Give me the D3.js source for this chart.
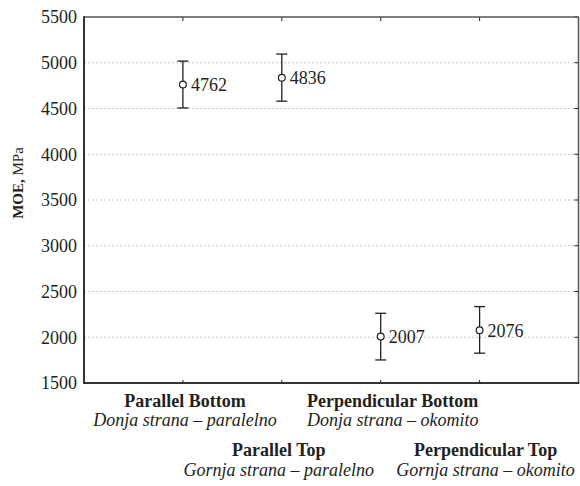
<!DOCTYPE html>
<html><head><meta charset="utf-8">
<script src="https://cdn.jsdelivr.net/npm/d3@7"></script>
<style>body{margin:0;background:#fff}svg{display:block}text{font-family:"Liberation Serif","Times New Roman",serif;fill:#231f20}</style>
</head><body>
<script>
const categoriesEn = ["Parallel Bottom", "Parallel Top", "Perpendicular Bottom", "Perpendicular Top"];
const categoriesHr = ["Donja strana – paralelno", "Gornja strana – paralelno", "Donja strana – okomito", "Gornja strana – okomito"];
const means = [4762, 4836, 2007, 2076];
const upper = [5018, 5095, 2262, 2335];
const lower = [4506, 4580, 1752, 1826];
const yTicks = [1500, 2000, 2500, 3000, 3500, 4000, 4500, 5000, 5500];

const W = 580, H = 486;
const svg = d3.select("body").append("svg").attr("width", W).attr("height", H);
const x = d3.scaleLinear().domain([0, 5]).range([84, 578.5]);
const y = d3.scaleLinear().domain([1500, 5500]).range([383, 17]);
const pos = means.map((d, i) => i + 1);
const col = "#231f20";
const fs = "18px";

// grid
svg.append("g").selectAll("line").data(yTicks.slice(1, -1)).join("line")
  .attr("x1", x(0)).attr("x2", x(5)).attr("y1", d => y(d)).attr("y2", d => y(d))
  .attr("stroke", "#b5b5b5").attr("stroke-width", 0.8).attr("stroke-dasharray", "2,2");

// left axis
const ga = svg.append("g").attr("transform", `translate(${x(0)},0)`)
  .call(d3.axisLeft(y).tickValues(yTicks).tickSize(0).tickPadding(7).tickFormat(d3.format("d")));
ga.select(".domain").remove();
ga.selectAll("text").style("font-size", fs).attr("fill", col).style("font-family", '"Liberation Serif",serif');

// inner ticks right, top, bottom
svg.append("g").selectAll("line").data(yTicks).join("line")
  .attr("x1", x(5)).attr("x2", x(5) - 4).attr("y1", d => y(d)).attr("y2", d => y(d))
  .attr("stroke", col).attr("stroke-width", 1);
svg.append("g").selectAll("line").data(pos).join("line")
  .attr("x1", d => x(d)).attr("x2", d => x(d)).attr("y1", y(5500)).attr("y2", y(5500) + 4)
  .attr("stroke", col).attr("stroke-width", 1);
svg.append("g").selectAll("line").data(pos).join("line")
  .attr("x1", d => x(d)).attr("x2", d => x(d)).attr("y1", y(1500)).attr("y2", y(1500) - 3)
  .attr("stroke", col).attr("stroke-width", 1);

// frame
svg.append("line").attr("x1", x(0)).attr("x2", x(5)).attr("y1", y(5500)).attr("y2", y(5500)).attr("stroke", "#555").attr("stroke-width", 1.5);
svg.append("line").attr("x1", x(5)).attr("x2", x(5)).attr("y1", y(5500)).attr("y2", y(1500)).attr("stroke", "#555").attr("stroke-width", 1.5);
svg.append("line").attr("x1", x(0)).attr("x2", x(0)).attr("y1", y(5500) - 0.75).attr("y2", y(1500) + 1).attr("stroke", "#333").attr("stroke-width", 2);
svg.append("line").attr("x1", x(0) - 1).attr("x2", x(5) + 0.75).attr("y1", y(1500)).attr("y2", y(1500)).attr("stroke", "#333").attr("stroke-width", 2);

// error bars
const g = svg.append("g");
const cap = 5.5;
g.selectAll(".v").data(means).join("line")
  .attr("x1", (d, i) => x(pos[i])).attr("x2", (d, i) => x(pos[i]))
  .attr("y1", (d, i) => y(upper[i])).attr("y2", (d, i) => y(lower[i]))
  .attr("stroke", col).attr("stroke-width", 1.3);
g.selectAll(".cu").data(upper).join("line")
  .attr("x1", (d, i) => x(pos[i]) - cap).attr("x2", (d, i) => x(pos[i]) + cap)
  .attr("y1", d => y(d)).attr("y2", d => y(d)).attr("stroke", col).attr("stroke-width", 1.3);
g.selectAll(".cl").data(lower).join("line")
  .attr("x1", (d, i) => x(pos[i]) - cap).attr("x2", (d, i) => x(pos[i]) + cap)
  .attr("y1", d => y(d)).attr("y2", d => y(d)).attr("stroke", col).attr("stroke-width", 1.3);
g.selectAll("circle").data(means).join("circle")
  .attr("cx", (d, i) => x(pos[i])).attr("cy", d => y(d)).attr("r", 3.4)
  .attr("fill", "#fff").attr("stroke", col).attr("stroke-width", 1.2);
g.selectAll("text").data(means).join("text")
  .attr("x", (d, i) => x(pos[i]) + 8).attr("y", d => y(d)).attr("dy", "0.36em")
  .style("font-size", fs).text(d => d);

// y title
svg.append("text").attr("transform", `translate(23,${(y(1500) + y(5500)) / 2 - 17}) rotate(-90)`)
  .attr("text-anchor", "middle").style("font-size", "15px")
  .call(t => { t.append("tspan").style("font-weight", "bold").text("MOE,"); t.append("tspan").text(" MPa"); });

// category labels (staggered rows)
const shift = [2, -3, 12, 6];
const lab = svg.append("g");
categoriesEn.forEach((c, i) => {
  const row = i % 2;
  const cx = x(pos[i]) + shift[i];
  lab.append("text").attr("x", cx).attr("y", 406.5 + row * 49.5).attr("text-anchor", "middle")
    .style("font-size", fs).style("font-weight", "bold").text(c);
  lab.append("text").attr("x", cx).attr("y", 426 + row * 49.5).attr("text-anchor", "middle")
    .style("font-size", fs).style("font-style", "italic").text(categoriesHr[i]);
});
</script>
</body></html>
